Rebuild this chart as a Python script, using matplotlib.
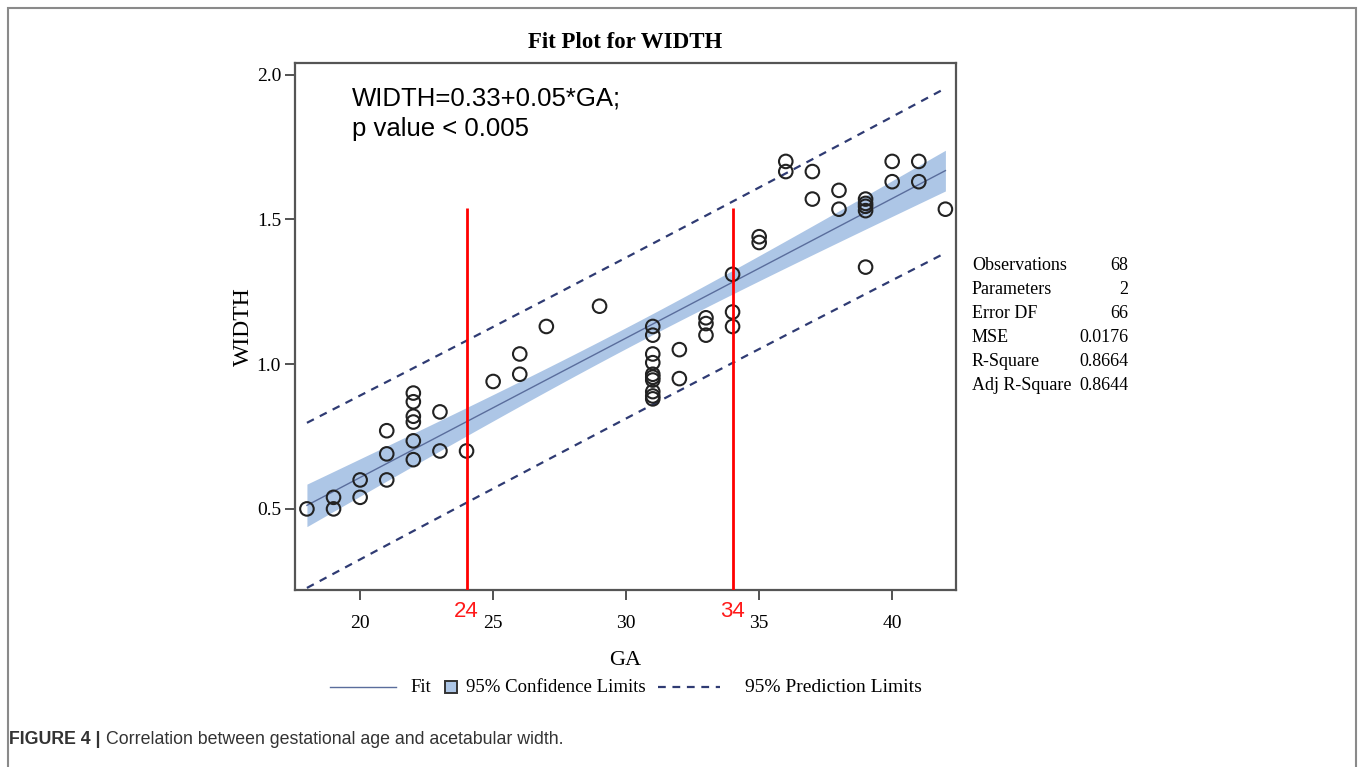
import numpy as np
import matplotlib
matplotlib.use("Agg")
import matplotlib.pyplot as plt
from matplotlib.lines import Line2D
from matplotlib.patches import Rectangle

# gestational age (weeks) and acetabular width
ga = [18, 19, 19, 20, 20, 21, 21, 21,
      22, 22, 22, 22, 22, 22, 23, 23, 24, 25, 26, 26, 27, 29,
      31, 31, 31, 31, 31, 31, 31, 31, 31, 31,
      32, 32, 33, 33, 33, 34, 34, 34, 35, 35, 36, 36, 37, 37,
      38, 38, 39, 39, 39, 39, 39, 40, 40, 41, 41, 42]
width = [0.50, 0.54, 0.50, 0.60, 0.54, 0.77, 0.69, 0.60,
         0.90, 0.87, 0.82, 0.80, 0.735, 0.67, 0.835, 0.70, 0.70, 0.94, 1.035, 0.965, 1.13, 1.20,
         1.13, 1.10, 1.035, 1.005, 0.965, 0.955, 0.945, 0.905, 0.89, 0.88,
         1.05, 0.95, 1.16, 1.14, 1.10, 1.31, 1.18, 1.13, 1.44, 1.42, 1.70, 1.665, 1.665, 1.57,
         1.60, 1.535, 1.57, 1.555, 1.545, 1.53, 1.335, 1.70, 1.63, 1.70, 1.63, 1.535]

cut_points = [24, 34]
cut_top = 1.54

stat_names = ["Observations", "Parameters", "Error DF", "MSE", "R-Square", "Adj R-Square"]
stat_values = ["68", "2", "66", "0.0176", "0.8664", "0.8644"]

x = np.array(ga, dtype=float)
y = np.array(width)
n = len(x)

# simple linear regression with confidence / prediction limits
b1, b0 = np.polyfit(x, y, 1)
resid = y - (b0 + b1 * x)
s = np.sqrt(np.sum(resid ** 2) / (n - 2))
t = 1.997
xbar = x.mean()
sxx = np.sum((x - xbar) ** 2)
xs = np.linspace(x.min(), x.max(), 200)
fit = b0 + b1 * xs
se_mean = s * np.sqrt(1 / n + (xs - xbar) ** 2 / sxx)
se_pred = s * np.sqrt(1 + 1 / n + (xs - xbar) ** 2 / sxx)

W, H = 1358, 767
serif = "Liberation Serif"
band_col = "#adc6e6"
fit_col = "#5a6d9c"
pred_col = "#2f3b73"
dash = (0, (3.5, 3))

fig = plt.figure(figsize=(W / 100, H / 100), dpi=100)
ax = fig.add_axes([0.2172, 0.2308, 0.4868, 0.6871])

ax.fill_between(xs, fit - t * se_mean, fit + t * se_mean, color=band_col, lw=0)
ax.plot(xs, fit, color=fit_col, lw=1.0)
ax.plot(xs, fit + t * se_pred, color=pred_col, lw=1.6, ls=dash)
ax.plot(xs, fit - t * se_pred, color=pred_col, lw=1.6, ls=dash)
ax.scatter(x, y, s=95, facecolors="none", edgecolors="#222222", linewidths=1.5, zorder=3)

ax.set_xlim(17.55, 42.4)
ax.set_ylim(0.22, 2.04)
ax.vlines(cut_points, 0.22, cut_top, color="#ff0000", lw=2, zorder=4)
for c in cut_points:
    ax.text(c, -0.02, str(c), transform=ax.get_xaxis_transform(), ha="center", va="top",
            color="#ff1a1a", fontsize=16, family="Liberation Sans")

ax.set_xticks([20, 25, 30, 35, 40])
ax.set_yticks([0.5, 1.0, 1.5, 2.0])
ax.set_yticklabels(["0.5", "1.0", "1.5", "2.0"])
ax.tick_params(direction="out", length=7, width=1.3, color="#444444", labelsize=14)
ax.tick_params(axis="x", pad=11)
ax.tick_params(axis="y", pad=3)
for lab in ax.get_xticklabels() + ax.get_yticklabels():
    lab.set_family(serif)
for sp in ax.spines.values():
    sp.set_color("#555555")
    sp.set_linewidth(1.6)

ax.set_xlabel("GA", family=serif, fontsize=16, labelpad=14)
ax.set_ylabel("WIDTH", family=serif, fontsize=17, labelpad=2)

ax.text(0.086, 0.955, "WIDTH=0.33+0.05*GA;\np value < 0.005", transform=ax.transAxes,
        ha="left", va="top", fontsize=18.5, family="Liberation Sans", linespacing=1.32)

fig.text(0.46, 1 - 43 / H, "Fit Plot for WIDTH", ha="center", va="center",
         family=serif, fontsize=16.5, fontweight="bold")

# fit statistics table
for i, (nm, val) in enumerate(zip(stat_names, stat_values)):
    yy = 1 - (266 + 24 * i) / H
    fig.text(972 / W, yy, nm, ha="left", va="center", family=serif, fontsize=13)
    fig.text(1128 / W, yy, val, ha="right", va="center", family=serif, fontsize=13)

# legend row under the plot
ly = 1 - 687 / H
fig.add_artist(Line2D([330 / W, 396 / W], [ly, ly], color=fit_col, lw=1.0))
fig.text(410 / W, ly, "Fit", ha="left", va="center", family=serif, fontsize=13.5)
fig.add_artist(Rectangle((445 / W, ly - 6 / H), 12 / W, 12 / H, facecolor=band_col,
                         edgecolor="#333333", lw=1.4))
fig.text(466 / W, ly, "95% Confidence Limits", ha="left", va="center", family=serif, fontsize=13.5)
fig.add_artist(Line2D([658 / W, 720 / W], [ly, ly], color=pred_col, lw=1.6, ls=dash))
fig.text(745 / W, ly, "95% Prediction Limits", ha="left", va="center", family=serif, fontsize=14)

# outer frame (bottom edge falls below the image)
frame = Rectangle((8 / W, -0.05), (1356 - 8) / W, 1.05 - 8 / H,
                  transform=fig.transFigure, fill=False, ec="#8a8a8a", lw=1.5)
fig.patches.append(frame)

cap_y = 1 - 740 / H
bold = fig.text(9 / W, cap_y, "FIGURE 4 |", ha="left", va="center",
                family="Liberation Sans", fontweight="bold", fontsize=12.8, color="#333333")
fig.canvas.draw()
bb = bold.get_window_extent()
fig.text((bb.x1 + 5) / W, cap_y, "Correlation between gestational age and acetabular width.",
         ha="left", va="center", family="Liberation Sans", fontsize=12.8, color="#333333")

fig.savefig("out.png", dpi=100)
